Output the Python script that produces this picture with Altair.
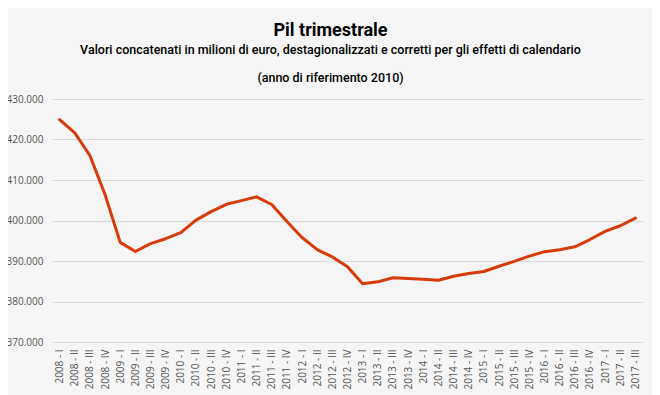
import altair as alt
import pandas as pd

quarters = [f"{y} - {q}" for y in range(2008, 2018) for q in ["I", "II", "III", "IV"]][:39]

pil = [
    424900, 421650, 416050, 406400, 394600, 392350, 394300, 395500,
    397000, 400100, 402200, 404000, 404900, 405850, 403950, 399750,
    395800, 392800, 391000, 388600, 384400, 384850, 385850, 385700,
    385500, 385250, 386250, 386900, 387400, 388700, 389900, 391200,
    392300, 392800, 393500, 395300, 397300, 398700, 400600,
]

y_ticks = [370000, 380000, 390000, 400000, 410000, 420000, 430000]

df = pd.DataFrame({"trimestre": quarters, "pil": pil})

title = alt.TitleParams(
    text="Pil trimestrale",
    subtitle=[
        "Valori concatenati in milioni  di euro, destagionalizzati e corretti per gli effetti di calendario",
        "(anno di riferimento 2010)",
    ],
    font="Roboto",
    fontSize=18,
    fontWeight="bold",
    color="#000000",
    subtitleFont="Roboto",
    subtitleFontSize=12.5,
    subtitleFontWeight=500,
    subtitleColor="#000000",
    subtitleLineHeight=28,
    subtitlePadding=4,
    anchor="middle",
    dx=-17,
    offset=10,
)

chart = (
    alt.Chart(df)
    .mark_line(color="#d83b0a", strokeWidth=3, strokeCap="round", strokeJoin="round")
    .encode(
        x=alt.X(
            "trimestre:N",
            sort=quarters,
            scale=alt.Scale(type="point", padding=0.5),
            axis=alt.Axis(
                title=None,
                labelAngle=-90,
                labelFont="Open Sans",
                labelFontSize=10,
                labelColor="#555555",
                labelPadding=7,
                ticks=False,
                domain=False,
                grid=False,
            ),
        ),
        y=alt.Y(
            "pil:Q",
            scale=alt.Scale(domain=[370000, 430000], nice=False, zero=False),
            axis=alt.Axis(
                title=None,
                values=y_ticks,
                labelExpr="replace(format(datum.value, ','), ',', '.')",
                labelFont="Open Sans",
                labelFontSize=10,
                labelColor="#555555",
                labelPadding=9,
                ticks=False,
                domain=False,
                grid=True,
                gridColor="#d9d9d9",
                gridWidth=1.2,
            ),
        ),
    )
    .properties(
        width=591,
        height=243,
        title=title,
        background="#f5f5f5",
        padding={"left": 44, "top": 91, "right": 9, "bottom": 60},
        autosize=alt.AutoSizeParams(type="none"),
    )
    .configure_view(stroke=None)
)

chart.save("out.html", embed_options={"renderer": "svg", "actions": False})
